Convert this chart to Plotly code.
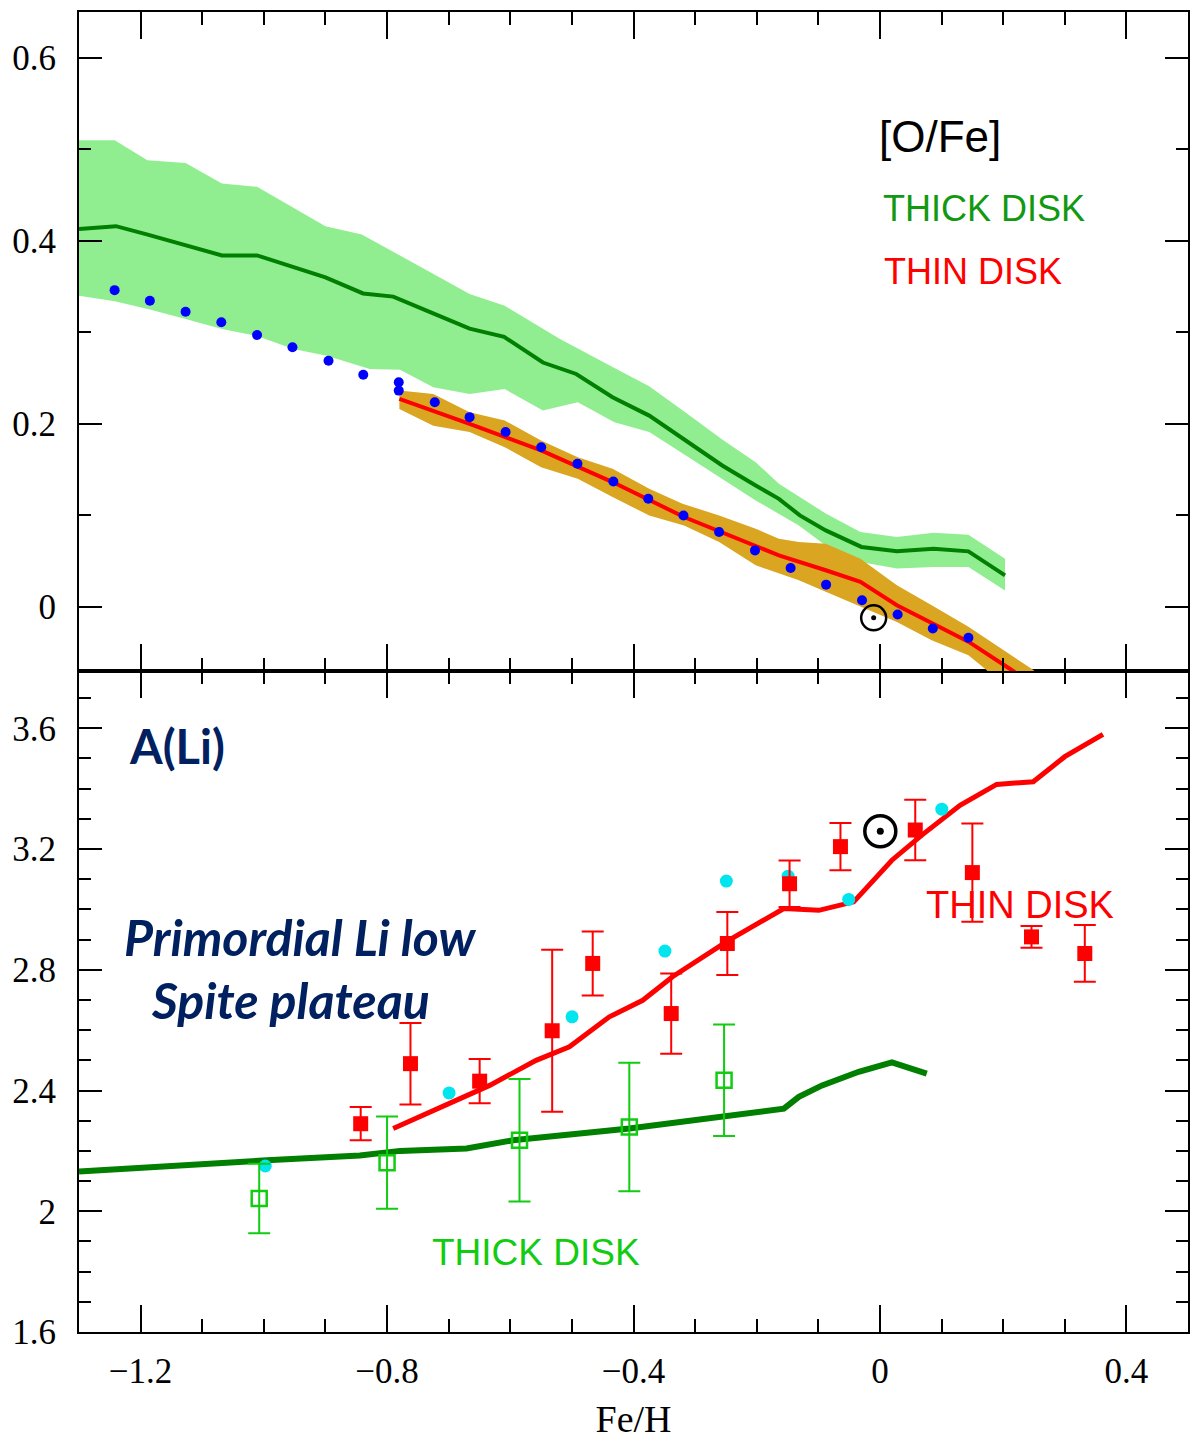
import plotly.graph_objects as go

# ---------------- Top panel: [O/Fe] vs [Fe/H] ----------------
thick_band_up_x = [-1.3, -1.242, -1.189, -1.127, -1.068, -1.011, -0.90, -0.841, -0.8115, -0.666, -0.609,
                   -0.52, -0.434, -0.3745, -0.315, -0.256, -0.2017, -0.164, -0.088, -0.0317, 0.0275,
                   0.087, 0.1436, 0.203]
thick_band_up_y = [0.51, 0.51, 0.488, 0.485, 0.4625, 0.459, 0.416, 0.407, 0.396, 0.342, 0.329,
                   0.293, 0.262, 0.241, 0.212, 0.183, 0.158, 0.1346, 0.102, 0.0818, 0.0764,
                   0.081, 0.0789, 0.0527]
thick_band_lo_x = [-1.3, -1.242, -1.185, -1.127, -1.068, -1.011, -0.952, -0.898, -0.828, -0.779, -0.725,
                   -0.666, -0.609, -0.547, -0.4905, -0.431, -0.3745, -0.315, -0.2017, -0.1316, -0.088,
                   -0.0317, 0.0275, 0.087, 0.1436, 0.203]
thick_band_lo_y = [0.340, 0.334, 0.325, 0.3145, 0.3036, 0.296, 0.2818, 0.2745, 0.260, 0.259, 0.240,
                   0.2327, 0.238, 0.2145, 0.2236, 0.2018, 0.191, 0.1654, 0.1163, 0.089, 0.0672,
                   0.049, 0.0418, 0.0436, 0.0436, 0.018]
thick_ofe_x = [-1.3, -1.24, -1.19, -1.127, -1.068, -1.011, -0.949, -0.90, -0.839, -0.79, -0.73, -0.666,
               -0.61, -0.547, -0.493, -0.434, -0.3745, -0.315, -0.256, -0.2017, -0.164, -0.13, -0.088,
               -0.03, 0.0275, 0.087, 0.1436, 0.203]
thick_ofe_y = [0.413, 0.416, 0.407, 0.395, 0.384, 0.384, 0.370, 0.360, 0.3425, 0.339, 0.322, 0.304,
               0.295, 0.267, 0.2545, 0.229, 0.209, 0.1817, 0.1545, 0.1327, 0.118, 0.100, 0.0836,
               0.0655, 0.0607, 0.0636, 0.0607, 0.0345]

thin_band_up_x = [-0.78, -0.725, -0.666, -0.609, -0.55, -0.4905, -0.434, -0.3745, -0.3205, -0.261,
                  -0.2017, -0.164, -0.1316, -0.088, -0.0317, 0.0275, 0.084, 0.1436, 0.249, 0.30]
thin_band_up_y = [0.2363, 0.2327, 0.2127, 0.2036, 0.1817, 0.1636, 0.1509, 0.129, 0.1127, 0.0999,
                  0.0854, 0.0745, 0.0709, 0.069, 0.0527, 0.0236, 0.0018, -0.0218, -0.069, -0.10]
thin_band_lo_x = [-0.78, -0.725, -0.666, -0.609, -0.55, -0.4905, -0.434, -0.3745, -0.318, -0.261,
                  -0.2017, -0.1316, -0.088, -0.0317, 0.0275, 0.084, 0.1436, 0.173, 0.20]
thin_band_lo_y = [0.2163, 0.198, 0.191, 0.1745, 0.1527, 0.140, 0.12, 0.0999, 0.089, 0.0709,
                  0.0454, 0.029, 0.0164, 0.0, -0.0164, -0.0364, -0.0528, -0.069, -0.09]
thin_ofe_x = [-0.78, -0.666, -0.55, -0.434, -0.318, -0.2017, -0.164, -0.088, -0.0317, 0.0275, 0.087,
              0.1436, 0.2137, 0.25]
thin_ofe_y = [0.2272, 0.200, 0.1709, 0.1364, 0.0982, 0.0672, 0.0563, 0.040, 0.0273, 0.0018, -0.018,
              -0.038, -0.069, -0.085]

chem_x = [-1.2422, -1.185, -1.127, -1.069, -1.011, -0.9535, -0.895, -0.8386, -0.781, -0.781, -0.7225,
          -0.666, -0.6076, -0.5498, -0.491, -0.4327, -0.376, -0.3189, -0.2611, -0.2028, -0.145,
          -0.0874, -0.0291, 0.0287, 0.0858, 0.1436]
chem_y = [0.3461, 0.3345, 0.3225, 0.311, 0.297, 0.2836, 0.269, 0.2537, 0.2454, 0.2363, 0.2236,
          0.2073, 0.191, 0.1745, 0.1563, 0.137, 0.1181, 0.0999, 0.0818, 0.0617, 0.0425,
          0.0243, 0.0072, -0.0084, -0.0237, -0.0338]
sun_ofe = (-0.0102, -0.012)

# ---------------- Bottom panel: A(Li) vs [Fe/H] ----------------
thin_li_x = [-0.79, -0.7036, -0.6335, -0.558, -0.504, -0.4392, -0.385, -0.3367, -0.245, -0.156,
             -0.0992, -0.0426, 0.0194, 0.068, 0.130, 0.1894, 0.2488, 0.300, 0.362]
thin_li_y = [2.274, 2.351, 2.417, 2.50, 2.545, 2.644, 2.699, 2.777, 2.898, 3.003,
             2.997, 3.025, 3.163, 3.246, 3.345, 3.414, 3.423, 3.506, 3.580]
thick_li_x = [-1.3, -1.146, -0.995, -0.844, -0.779, -0.671, -0.5958, -0.4068, -0.272, -0.156,
              -0.1316, -0.0939, -0.0345, 0.0194, 0.076]
thick_li_y = [2.132, 2.152, 2.169, 2.185, 2.20, 2.208, 2.235, 2.274, 2.307, 2.34,
              2.379, 2.417, 2.462, 2.493, 2.456]

thin_obs_x = [-0.8428, -0.762, -0.6497, -0.532, -0.4662, -0.3388, -0.2477, -0.1467, -0.0641,
              0.0573, 0.150, 0.246, 0.3325]
thin_obs_y = [2.29, 2.489, 2.431, 2.598, 2.821, 2.655, 2.887, 3.085, 3.208,
              3.263, 3.122, 2.909, 2.854]
thin_obs_err = [0.055, 0.135, 0.073, 0.268, 0.106, 0.133, 0.104, 0.077, 0.078,
                0.10, 0.163, 0.036, 0.094]

thick_obs_x = [-1.0075, -0.80, -0.585, -0.4068, -0.253]
thick_obs_y = [2.042, 2.161, 2.235, 2.279, 2.434]
thick_obs_err = [0.115, 0.153, 0.203, 0.213, 0.185]

other_x = [-0.9977, -0.6993, -0.4997, -0.349, -0.2493, -0.149, -0.0507, 0.1004]
other_y = [2.150, 2.392, 2.644, 2.862, 3.094, 3.110, 3.033, 3.332]
sun_li = (0.0006, 3.259)

x_range = [-1.3, 0.5]
x_ticks = [-1.2, -0.8, -0.4, 0, 0.4]

LIGHT_GREEN = "#90EE90"
GOLD = "#DAA520"
DARK_GREEN = "#007F00"
BRIGHT_GREEN = "#11CC11"
RED = "#FF0000"
NAVY = "#002060"

fig = go.Figure()

# --- top panel traces (xaxis2 / yaxis2) ---
fig.add_trace(go.Scatter(x=thick_band_up_x + thick_band_lo_x[::-1],
                         y=thick_band_up_y + thick_band_lo_y[::-1],
                         fill="toself", fillcolor=LIGHT_GREEN, line=dict(width=0),
                         mode="lines", xaxis="x2", yaxis="y2", hoverinfo="skip"))
fig.add_trace(go.Scatter(x=thin_band_up_x + thin_band_lo_x[::-1],
                         y=thin_band_up_y + thin_band_lo_y[::-1],
                         fill="toself", fillcolor=GOLD, line=dict(width=0),
                         mode="lines", xaxis="x2", yaxis="y2", hoverinfo="skip"))
fig.add_trace(go.Scatter(x=thick_ofe_x, y=thick_ofe_y, mode="lines",
                         line=dict(color=DARK_GREEN, width=4), xaxis="x2", yaxis="y2"))
fig.add_trace(go.Scatter(x=thin_ofe_x, y=thin_ofe_y, mode="lines",
                         line=dict(color=RED, width=4), xaxis="x2", yaxis="y2"))
fig.add_trace(go.Scatter(x=chem_x, y=chem_y, mode="markers",
                         marker=dict(color="#0000FF", size=10), xaxis="x2", yaxis="y2"))
fig.add_trace(go.Scatter(x=[sun_ofe[0]], y=[sun_ofe[1]], mode="markers",
                         marker=dict(symbol="circle-open", size=25, color="black",
                                     line=dict(color="black", width=2.5)),
                         xaxis="x2", yaxis="y2"))
fig.add_trace(go.Scatter(x=[sun_ofe[0]], y=[sun_ofe[1]], mode="markers",
                         marker=dict(symbol="circle", size=5, color="black"),
                         xaxis="x2", yaxis="y2"))

# --- bottom panel traces (xaxis / yaxis) ---
fig.add_trace(go.Scatter(x=thick_li_x, y=thick_li_y, mode="lines",
                         line=dict(color=DARK_GREEN, width=6)))
fig.add_trace(go.Scatter(x=thin_li_x, y=thin_li_y, mode="lines",
                         line=dict(color=RED, width=5)))
fig.add_trace(go.Scatter(x=other_x, y=other_y, mode="markers",
                         marker=dict(color="#00E5EE", size=13)))
fig.add_trace(go.Scatter(x=thick_obs_x, y=thick_obs_y, mode="markers",
                         marker=dict(symbol="square-open", size=15, color=BRIGHT_GREEN,
                                     line=dict(color=BRIGHT_GREEN, width=2.5)),
                         error_y=dict(type="data", array=thick_obs_err, color=BRIGHT_GREEN,
                                      thickness=2, width=11)))
fig.add_trace(go.Scatter(x=thin_obs_x, y=thin_obs_y, mode="markers",
                         marker=dict(symbol="square", size=15, color=RED),
                         error_y=dict(type="data", array=thin_obs_err, color=RED,
                                      thickness=2, width=11)))
fig.add_trace(go.Scatter(x=[sun_li[0]], y=[sun_li[1]], mode="markers",
                         marker=dict(symbol="circle-open", size=31, color="black",
                                     line=dict(color="black", width=3.5))))
fig.add_trace(go.Scatter(x=[sun_li[0]], y=[sun_li[1]], mode="markers",
                         marker=dict(symbol="circle", size=7, color="black")))

tick_font = dict(family="Liberation Serif, DejaVu Serif, serif", size=35, color="black")
common_x = dict(range=x_range, tickmode="array", tickvals=x_ticks,
                ticks="inside", ticklen=27, tickwidth=2, tickcolor="black",
                minor=dict(dtick=0.1, tick0=0, ticks="inside", ticklen=13, tickwidth=2,
                           tickcolor="black"),
                showline=True, linewidth=2, linecolor="black", mirror="ticks",
                showgrid=False, zeroline=False, tickfont=tick_font)
common_y = dict(ticks="inside", ticklen=23, tickwidth=2, tickcolor="black",
                showline=True, linewidth=2, linecolor="black", mirror="ticks",
                showgrid=False, zeroline=False, tickfont=tick_font, ticklabelstandoff=14)

split = 0.5008
fig.update_layout(
    width=1192, height=1440,
    margin=dict(l=79, r=2, t=12, b=107),
    paper_bgcolor="white", plot_bgcolor="white",
    showlegend=False,
    xaxis=dict(**common_x, anchor="y", domain=[0, 1], ticklabelstandoff=7,
               title=dict(text="Fe/H", standoff=20,
                          font=dict(family="Liberation Serif, DejaVu Serif, serif", size=38,
                                    color="black"))),
    yaxis=dict(**common_y, anchor="x", domain=[0, split], range=[1.6, 3.79],
               tickmode="array", tickvals=[1.6, 2.0, 2.4, 2.8, 3.2, 3.6],
               ticktext=["1.6", "2", "2.4", "2.8", "3.2", "3.6"],
               minor=dict(dtick=0.1, tick0=0, ticks="inside", ticklen=12, tickwidth=2,
                          tickcolor="black")),
    xaxis2=dict(**common_x, anchor="y2", domain=[0, 1], showticklabels=False, matches="x"),
    yaxis2=dict(**common_y, anchor="x2", domain=[split, 1], range=[-0.07, 0.65],
                tickmode="array", tickvals=[0, 0.2, 0.4, 0.6],
                ticktext=["0", "0.2", "0.4", "0.6"],
                minor=dict(dtick=0.1, tick0=0, ticks="inside", ticklen=12, tickwidth=2,
                           tickcolor="black")),
)

sans = "Liberation Sans, Arial, sans-serif"
humanist = "Lato, Open Sans, sans-serif"
annotations = [
    dict(text="[O/Fe]", x=-0.004, y=0.514, xref="x2", yref="y2",
         font=dict(family=sans, size=44, color="black")),
    dict(text="THICK DISK", x=0.001, y=0.4356, xref="x2", yref="y2",
         font=dict(family=sans, size=36, color="#119911")),
    dict(text="THIN DISK", x=0.0026, y=0.3663, xref="x2", yref="y2",
         font=dict(family=sans, size=36, color=RED)),
    dict(text="A(Li)", x=-1.2216, y=3.54, xref="x", yref="y",
         font=dict(family=humanist, size=47, color=NAVY, weight="bold")),
    dict(text="Primordial Li low", x=-1.2297, y=2.91, xref="x", yref="y",
         font=dict(family=humanist, size=50, color=NAVY, weight="bold", style="italic")),
    dict(text="Spite plateau", x=-1.187, y=2.70, xref="x", yref="y",
         font=dict(family=humanist, size=50, color=NAVY, weight="bold", style="italic")),
    dict(text="THIN DISK", x=0.0707, y=3.014, xref="x", yref="y",
         font=dict(family=sans, size=38, color=RED)),
    dict(text="THICK DISK", x=-0.7307, y=1.863, xref="x", yref="y",
         font=dict(family=sans, size=37, color=BRIGHT_GREEN)),
]
for a in annotations:
    a.update(showarrow=False, xanchor="left", yanchor="middle")
fig.update_layout(annotations=annotations)

fig.write_html("out.html")
